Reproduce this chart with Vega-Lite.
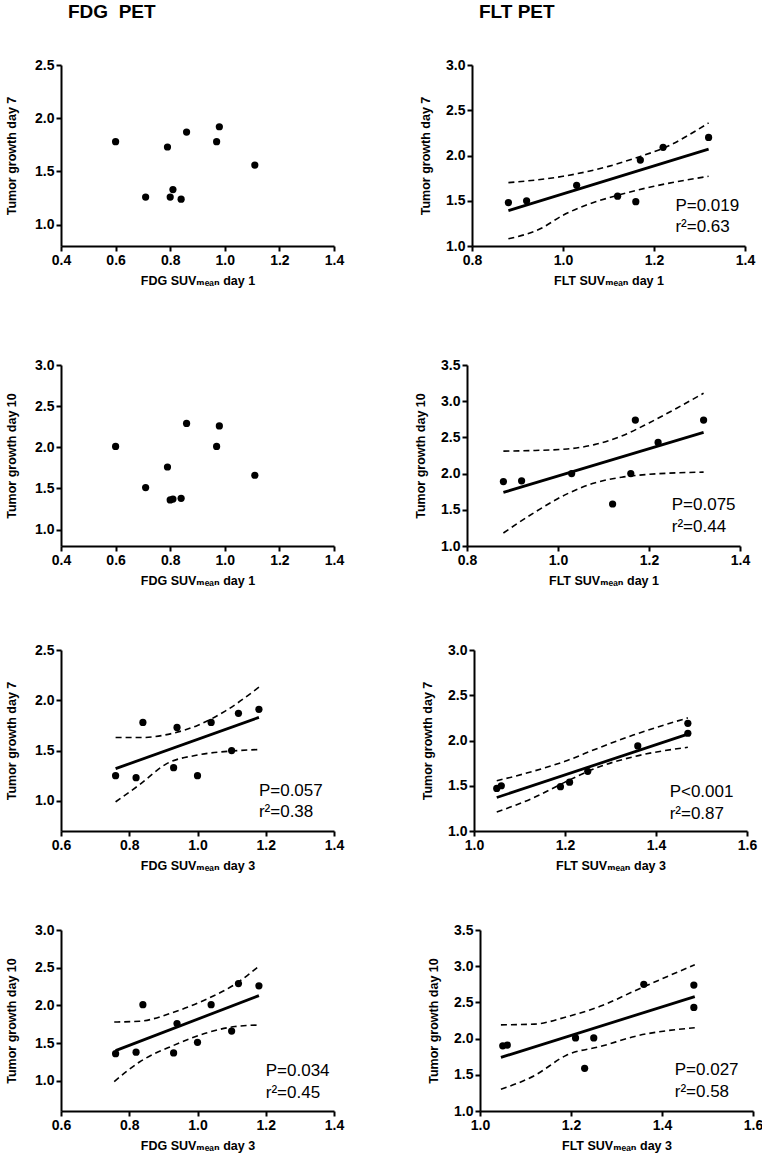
{
 "$schema": "https://vega.github.io/schema/vega-lite/v6.json",
 "background": "white",
 "padding": {"left": 5, "top": 3, "right": 0, "bottom": 5},
 "config": {
  "view": {"stroke": null},
  "font": "Liberation Sans",
  "axis": {"domainColor": "#000", "domainWidth": 2, "tickColor": "#000", "tickWidth": 2, "tickSize": 5,
   "labelFont": "Liberation Sans", "labelFontSize": 14, "labelFontWeight": "bold", "labelColor": "#000", "labelPadding": 2,
   "labelFlush": false, "labelOverlap": false,
   "titleFont": "Liberation Sans, DejaVu Sans", "titleFontSize": 12.5, "titleFontWeight": "bold", "titleColor": "#000", "grid": false},
  "axisY": {"titlePadding": 13},
  "axisX": {"titlePadding": 7},
  "title": {"font": "Liberation Sans", "color": "#000"}
 },
 "datasets": {
  "points": [
   {"panel": "A", "suv": 0.60, "growth": 1.78}, {"panel": "A", "suv": 0.71, "growth": 1.26}, {"panel": "A", "suv": 0.79, "growth": 1.73}, {"panel": "A", "suv": 0.80, "growth": 1.26}, {"panel": "A", "suv": 0.81, "growth": 1.33}, {"panel": "A", "suv": 0.84, "growth": 1.24}, {"panel": "A", "suv": 0.86, "growth": 1.87}, {"panel": "A", "suv": 0.97, "growth": 1.78}, {"panel": "A", "suv": 0.98, "growth": 1.92}, {"panel": "A", "suv": 1.11, "growth": 1.56},
   {"panel": "B", "suv": 0.88, "growth": 1.48}, {"panel": "B", "suv": 0.92, "growth": 1.50}, {"panel": "B", "suv": 1.03, "growth": 1.67}, {"panel": "B", "suv": 1.12, "growth": 1.55}, {"panel": "B", "suv": 1.16, "growth": 1.49}, {"panel": "B", "suv": 1.17, "growth": 1.95}, {"panel": "B", "suv": 1.22, "growth": 2.09}, {"panel": "B", "suv": 1.32, "growth": 2.20},
   {"panel": "C", "suv": 0.60, "growth": 2.01}, {"panel": "C", "suv": 0.71, "growth": 1.51}, {"panel": "C", "suv": 0.79, "growth": 1.76}, {"panel": "C", "suv": 0.80, "growth": 1.36}, {"panel": "C", "suv": 0.81, "growth": 1.37}, {"panel": "C", "suv": 0.84, "growth": 1.38}, {"panel": "C", "suv": 0.86, "growth": 2.29}, {"panel": "C", "suv": 0.97, "growth": 2.01}, {"panel": "C", "suv": 0.98, "growth": 2.26}, {"panel": "C", "suv": 1.11, "growth": 1.66},
   {"panel": "D", "suv": 0.88, "growth": 1.89}, {"panel": "D", "suv": 0.92, "growth": 1.90}, {"panel": "D", "suv": 1.03, "growth": 2.00}, {"panel": "D", "suv": 1.12, "growth": 1.58}, {"panel": "D", "suv": 1.16, "growth": 2.00}, {"panel": "D", "suv": 1.17, "growth": 2.74}, {"panel": "D", "suv": 1.22, "growth": 2.43}, {"panel": "D", "suv": 1.32, "growth": 2.74},
   {"panel": "E", "suv": 0.76, "growth": 1.25}, {"panel": "E", "suv": 0.82, "growth": 1.23}, {"panel": "E", "suv": 0.84, "growth": 1.78}, {"panel": "E", "suv": 0.93, "growth": 1.33}, {"panel": "E", "suv": 0.94, "growth": 1.73}, {"panel": "E", "suv": 1.00, "growth": 1.25}, {"panel": "E", "suv": 1.04, "growth": 1.78}, {"panel": "E", "suv": 1.10, "growth": 1.50}, {"panel": "E", "suv": 1.12, "growth": 1.87}, {"panel": "E", "suv": 1.18, "growth": 1.91},
   {"panel": "F", "suv": 1.05, "growth": 1.47}, {"panel": "F", "suv": 1.06, "growth": 1.50}, {"panel": "F", "suv": 1.19, "growth": 1.49}, {"panel": "F", "suv": 1.21, "growth": 1.54}, {"panel": "F", "suv": 1.25, "growth": 1.66}, {"panel": "F", "suv": 1.36, "growth": 1.94}, {"panel": "F", "suv": 1.47, "growth": 2.08}, {"panel": "F", "suv": 1.47, "growth": 2.19},
   {"panel": "G", "suv": 0.76, "growth": 1.36}, {"panel": "G", "suv": 0.82, "growth": 1.38}, {"panel": "G", "suv": 0.84, "growth": 2.01}, {"panel": "G", "suv": 0.93, "growth": 1.37}, {"panel": "G", "suv": 0.94, "growth": 1.76}, {"panel": "G", "suv": 1.00, "growth": 1.51}, {"panel": "G", "suv": 1.04, "growth": 2.01}, {"panel": "G", "suv": 1.10, "growth": 1.66}, {"panel": "G", "suv": 1.12, "growth": 2.29}, {"panel": "G", "suv": 1.18, "growth": 2.26},
   {"panel": "H", "suv": 1.05, "growth": 1.90}, {"panel": "H", "suv": 1.06, "growth": 1.91}, {"panel": "H", "suv": 1.21, "growth": 2.01}, {"panel": "H", "suv": 1.23, "growth": 1.59}, {"panel": "H", "suv": 1.25, "growth": 2.01}, {"panel": "H", "suv": 1.36, "growth": 2.75}, {"panel": "H", "suv": 1.47, "growth": 2.74}, {"panel": "H", "suv": 1.47, "growth": 2.43}
  ],
  "fits": [
   {"panel": "B", "curve": "fit", "suv": 0.88, "growth": 1.39}, {"panel": "B", "curve": "fit", "suv": 1.32, "growth": 2.07},
   {"panel": "B", "curve": "upper", "suv": 0.88, "growth": 1.70}, {"panel": "B", "curve": "upper", "suv": 1.0, "growth": 1.77}, {"panel": "B", "curve": "upper", "suv": 1.1, "growth": 1.88}, {"panel": "B", "curve": "upper", "suv": 1.17, "growth": 1.99}, {"panel": "B", "curve": "upper", "suv": 1.22, "growth": 2.08}, {"panel": "B", "curve": "upper", "suv": 1.32, "growth": 2.36},
   {"panel": "B", "curve": "lower", "suv": 0.88, "growth": 1.08}, {"panel": "B", "curve": "lower", "suv": 0.95, "growth": 1.19}, {"panel": "B", "curve": "lower", "suv": 1.0, "growth": 1.34}, {"panel": "B", "curve": "lower", "suv": 1.05, "growth": 1.45}, {"panel": "B", "curve": "lower", "suv": 1.12, "growth": 1.56}, {"panel": "B", "curve": "lower", "suv": 1.2, "growth": 1.66}, {"panel": "B", "curve": "lower", "suv": 1.32, "growth": 1.77},
   {"panel": "D", "curve": "fit", "suv": 0.88, "growth": 1.74}, {"panel": "D", "curve": "fit", "suv": 1.32, "growth": 2.57},
   {"panel": "D", "curve": "upper", "suv": 0.88, "growth": 2.31}, {"panel": "D", "curve": "upper", "suv": 0.95, "growth": 2.32}, {"panel": "D", "curve": "upper", "suv": 1.02, "growth": 2.34}, {"panel": "D", "curve": "upper", "suv": 1.08, "growth": 2.40}, {"panel": "D", "curve": "upper", "suv": 1.14, "growth": 2.52}, {"panel": "D", "curve": "upper", "suv": 1.20, "growth": 2.70}, {"panel": "D", "curve": "upper", "suv": 1.26, "growth": 2.90}, {"panel": "D", "curve": "upper", "suv": 1.32, "growth": 3.11},
   {"panel": "D", "curve": "lower", "suv": 0.88, "growth": 1.18}, {"panel": "D", "curve": "lower", "suv": 0.95, "growth": 1.47}, {"panel": "D", "curve": "lower", "suv": 1.02, "growth": 1.72}, {"panel": "D", "curve": "lower", "suv": 1.08, "growth": 1.87}, {"panel": "D", "curve": "lower", "suv": 1.14, "growth": 1.95}, {"panel": "D", "curve": "lower", "suv": 1.20, "growth": 1.99}, {"panel": "D", "curve": "lower", "suv": 1.26, "growth": 2.01}, {"panel": "D", "curve": "lower", "suv": 1.32, "growth": 2.02},
   {"panel": "E", "curve": "fit", "suv": 0.76, "growth": 1.32}, {"panel": "E", "curve": "fit", "suv": 1.18, "growth": 1.83},
   {"panel": "E", "curve": "upper", "suv": 0.76, "growth": 1.63}, {"panel": "E", "curve": "upper", "suv": 0.84, "growth": 1.63}, {"panel": "E", "curve": "upper", "suv": 0.925, "growth": 1.67}, {"panel": "E", "curve": "upper", "suv": 1.0, "growth": 1.75}, {"panel": "E", "curve": "upper", "suv": 1.08, "growth": 1.89}, {"panel": "E", "curve": "upper", "suv": 1.18, "growth": 2.13},
   {"panel": "E", "curve": "lower", "suv": 0.76, "growth": 0.99}, {"panel": "E", "curve": "lower", "suv": 0.83, "growth": 1.16}, {"panel": "E", "curve": "lower", "suv": 0.91, "growth": 1.37}, {"panel": "E", "curve": "lower", "suv": 1.0, "growth": 1.455}, {"panel": "E", "curve": "lower", "suv": 1.10, "growth": 1.495}, {"panel": "E", "curve": "lower", "suv": 1.18, "growth": 1.51},
   {"panel": "F", "curve": "fit", "suv": 1.05, "growth": 1.37}, {"panel": "F", "curve": "fit", "suv": 1.47, "growth": 2.07},
   {"panel": "F", "curve": "upper", "suv": 1.05, "growth": 1.555}, {"panel": "F", "curve": "upper", "suv": 1.13, "growth": 1.66}, {"panel": "F", "curve": "upper", "suv": 1.20, "growth": 1.77}, {"panel": "F", "curve": "upper", "suv": 1.27, "growth": 1.91}, {"panel": "F", "curve": "upper", "suv": 1.35, "growth": 2.06}, {"panel": "F", "curve": "upper", "suv": 1.47, "growth": 2.25},
   {"panel": "F", "curve": "lower", "suv": 1.05, "growth": 1.21}, {"panel": "F", "curve": "lower", "suv": 1.13, "growth": 1.365}, {"panel": "F", "curve": "lower", "suv": 1.20, "growth": 1.54}, {"panel": "F", "curve": "lower", "suv": 1.27, "growth": 1.70}, {"panel": "F", "curve": "lower", "suv": 1.35, "growth": 1.82}, {"panel": "F", "curve": "lower", "suv": 1.47, "growth": 1.925},
   {"panel": "G", "curve": "fit", "suv": 0.76, "growth": 1.40}, {"panel": "G", "curve": "fit", "suv": 1.18, "growth": 2.13},
   {"panel": "G", "curve": "upper", "suv": 0.756, "growth": 1.78}, {"panel": "G", "curve": "upper", "suv": 0.83, "growth": 1.79}, {"panel": "G", "curve": "upper", "suv": 0.93, "growth": 1.91}, {"panel": "G", "curve": "upper", "suv": 1.03, "growth": 2.09}, {"panel": "G", "curve": "upper", "suv": 1.11, "growth": 2.28}, {"panel": "G", "curve": "upper", "suv": 1.18, "growth": 2.52},
   {"panel": "G", "curve": "lower", "suv": 0.756, "growth": 0.99}, {"panel": "G", "curve": "lower", "suv": 0.83, "growth": 1.25}, {"panel": "G", "curve": "lower", "suv": 0.93, "growth": 1.47}, {"panel": "G", "curve": "lower", "suv": 1.03, "growth": 1.64}, {"panel": "G", "curve": "lower", "suv": 1.11, "growth": 1.72}, {"panel": "G", "curve": "lower", "suv": 1.18, "growth": 1.74},
   {"panel": "H", "curve": "fit", "suv": 1.046, "growth": 1.74}, {"panel": "H", "curve": "fit", "suv": 1.472, "growth": 2.58},
   {"panel": "H", "curve": "upper", "suv": 1.046, "growth": 2.19}, {"panel": "H", "curve": "upper", "suv": 1.12, "growth": 2.20}, {"panel": "H", "curve": "upper", "suv": 1.19, "growth": 2.30}, {"panel": "H", "curve": "upper", "suv": 1.27, "growth": 2.46}, {"panel": "H", "curve": "upper", "suv": 1.34, "growth": 2.66}, {"panel": "H", "curve": "upper", "suv": 1.472, "growth": 3.02},
   {"panel": "H", "curve": "lower", "suv": 1.046, "growth": 1.30}, {"panel": "H", "curve": "lower", "suv": 1.12, "growth": 1.49}, {"panel": "H", "curve": "lower", "suv": 1.19, "growth": 1.77}, {"panel": "H", "curve": "lower", "suv": 1.27, "growth": 1.90}, {"panel": "H", "curve": "lower", "suv": 1.34, "growth": 2.03}, {"panel": "H", "curve": "lower", "suv": 1.472, "growth": 2.15}
  ],
  "notes": [
   {"panel": "B", "suv": 1.247, "growth": 1.447, "note": "P=0.019"}, {"panel": "B", "suv": 1.247, "growth": 1.21, "note": "r²=0.63"},
   {"panel": "D", "suv": 1.25, "growth": 1.57, "note": "P=0.075"}, {"panel": "D", "suv": 1.25, "growth": 1.26, "note": "r²=0.44"},
   {"panel": "E", "suv": 1.18, "growth": 1.10, "note": "P=0.057"}, {"panel": "E", "suv": 1.18, "growth": 0.885, "note": "r²=0.38"},
   {"panel": "F", "suv": 1.43, "growth": 1.43, "note": "P<0.001"}, {"panel": "F", "suv": 1.43, "growth": 1.19, "note": "r²=0.87"},
   {"panel": "G", "suv": 1.20, "growth": 1.127, "note": "P=0.034"}, {"panel": "G", "suv": 1.20, "growth": 0.84, "note": "r²=0.45"},
   {"panel": "H", "suv": 1.428, "growth": 1.57, "note": "P=0.027"}, {"panel": "H", "suv": 1.428, "growth": 1.26, "note": "r²=0.58"}
  ]
 },
 "resolve": {"scale": {"x": "independent", "y": "independent"}},
 "columns": 1,
 "align": "none",
 "spacing": 56,
 "concat": [
  {
   "columns": 1,
   "align": "none",
   "spacing": 71,
   "resolve": {"scale": {"x": "independent", "y": "independent"}},
   "concat": [
    {
     "spacing": 75,
     "resolve": {"scale": {"x": "independent", "y": "independent"}},
     "hconcat": [
      {
       "width": 273, "height": 181,
       "title": {"text": "FDG\u00a0 PET", "anchor": "start", "frame": "group", "fontSize": 19, "fontWeight": "bold", "offset": 36, "dx": 7},
       "encoding": {
        "x": {"field": "suv", "type": "quantitative", "scale": {"domain": [0.4, 1.4], "nice": false, "zero": false}, "axis": {"values": [0.4, 0.6, 0.8, 1.0, 1.2, 1.4], "format": ".1f", "title": "FDG SUVₘₑₐₙ day 1"}},
        "y": {"field": "growth", "type": "quantitative", "scale": {"domain": [0.8, 2.5], "nice": false, "zero": false}, "axis": {"values": [1.0, 1.5, 2.0, 2.5], "format": ".1f", "title": "Tumor growth day 7", "titlePadding": 16}}
       },
       "layer": [
        {"data": {"name": "points"}, "transform": [{"filter": "datum.panel == 'A'"}], "mark": {"type": "circle", "size": 52, "color": "#000", "opacity": 1}}
       ]
      },
      {
       "width": 273, "height": 181,
       "title": {"text": "FLT PET", "anchor": "start", "frame": "group", "fontSize": 19, "fontWeight": "bold", "offset": 36, "dx": 7},
       "encoding": {
        "x": {"field": "suv", "type": "quantitative", "scale": {"domain": [0.8, 1.4], "nice": false, "zero": false}, "axis": {"values": [0.8, 1.0, 1.2, 1.4], "format": ".1f", "title": "FLT SUVₘₑₐₙ day 1"}},
        "y": {"field": "growth", "type": "quantitative", "scale": {"domain": [1.0, 3.0], "nice": false, "zero": false}, "axis": {"values": [1.0, 1.5, 2.0, 2.5, 3.0], "format": ".1f", "title": "Tumor growth day 7"}}
       },
       "layer": [
        {"data": {"name": "points"}, "transform": [{"filter": "datum.panel == 'B'"}], "mark": {"type": "circle", "size": 52, "color": "#000", "opacity": 1}},
        {"data": {"name": "fits"}, "transform": [{"filter": "datum.panel == 'B' && datum.curve == 'fit'"}], "mark": {"type": "line", "color": "#000", "strokeWidth": 2.8}},
        {"data": {"name": "fits"}, "transform": [{"filter": "datum.panel == 'B' && datum.curve != 'fit'"}], "mark": {"type": "line", "color": "#000", "strokeWidth": 1.6, "strokeDash": [6, 4], "interpolate": "monotone"}, "encoding": {"detail": {"field": "curve", "type": "nominal"}}},
        {"data": {"name": "notes"}, "transform": [{"filter": "datum.panel == 'B'"}], "mark": {"type": "text", "align": "left", "baseline": "middle", "fontSize": 17, "color": "#000", "font": "Liberation Sans"}, "encoding": {"text": {"field": "note", "type": "nominal"}}}
       ]
      }
     ]
    },
    {
     "spacing": 70,
     "resolve": {"scale": {"x": "independent", "y": "independent"}},
     "hconcat": [
      {
       "width": 273, "height": 181,
       "encoding": {
        "x": {"field": "suv", "type": "quantitative", "scale": {"domain": [0.4, 1.4], "nice": false, "zero": false}, "axis": {"values": [0.4, 0.6, 0.8, 1.0, 1.2, 1.4], "format": ".1f", "title": "FDG SUVₘₑₐₙ day 1"}},
        "y": {"field": "growth", "type": "quantitative", "scale": {"domain": [0.8, 3.0], "nice": false, "zero": false}, "axis": {"values": [1.0, 1.5, 2.0, 2.5, 3.0], "format": ".1f", "title": "Tumor growth day 10", "titlePadding": 16}}
       },
       "layer": [
        {"data": {"name": "points"}, "transform": [{"filter": "datum.panel == 'C'"}], "mark": {"type": "circle", "size": 52, "color": "#000", "opacity": 1}}
       ]
      },
      {
       "width": 273, "height": 181,
       "encoding": {
        "x": {"field": "suv", "type": "quantitative", "scale": {"domain": [0.8, 1.4], "nice": false, "zero": false}, "axis": {"values": [0.8, 1.0, 1.2, 1.4], "format": ".1f", "title": "FLT SUVₘₑₐₙ day 1"}},
        "y": {"field": "growth", "type": "quantitative", "scale": {"domain": [1.0, 3.5], "nice": false, "zero": false}, "axis": {"values": [1.0, 1.5, 2.0, 2.5, 3.0, 3.5], "format": ".1f", "title": "Tumor growth day 10"}}
       },
       "layer": [
        {"data": {"name": "points"}, "transform": [{"filter": "datum.panel == 'D'"}], "mark": {"type": "circle", "size": 52, "color": "#000", "opacity": 1}},
        {"data": {"name": "fits"}, "transform": [{"filter": "datum.panel == 'D' && datum.curve == 'fit'"}], "mark": {"type": "line", "color": "#000", "strokeWidth": 2.8}},
        {"data": {"name": "fits"}, "transform": [{"filter": "datum.panel == 'D' && datum.curve != 'fit'"}], "mark": {"type": "line", "color": "#000", "strokeWidth": 1.6, "strokeDash": [6, 4], "interpolate": "monotone"}, "encoding": {"detail": {"field": "curve", "type": "nominal"}}},
        {"data": {"name": "notes"}, "transform": [{"filter": "datum.panel == 'D'"}], "mark": {"type": "text", "align": "left", "baseline": "middle", "fontSize": 17, "color": "#000", "font": "Liberation Sans"}, "encoding": {"text": {"field": "note", "type": "nominal"}}}
       ]
      }
     ]
    }
   ]
  },
  {
   "columns": 1,
   "align": "none",
   "spacing": 51,
   "resolve": {"scale": {"x": "independent", "y": "independent"}},
   "concat": [
    {
     "spacing": 77,
     "resolve": {"scale": {"x": "independent", "y": "independent"}},
     "hconcat": [
      {
       "width": 273, "height": 181,
       "encoding": {
        "x": {"field": "suv", "type": "quantitative", "scale": {"domain": [0.6, 1.4], "nice": false, "zero": false}, "axis": {"values": [0.6, 0.8, 1.0, 1.2, 1.4], "format": ".1f", "title": "FDG SUVₘₑₐₙ day 3"}},
        "y": {"field": "growth", "type": "quantitative", "scale": {"domain": [0.7, 2.5], "nice": false, "zero": false}, "axis": {"values": [1.0, 1.5, 2.0, 2.5], "format": ".1f", "title": "Tumor growth day 7", "titlePadding": 16}}
       },
       "layer": [
        {"data": {"name": "points"}, "transform": [{"filter": "datum.panel == 'E'"}], "mark": {"type": "circle", "size": 52, "color": "#000", "opacity": 1}},
        {"data": {"name": "fits"}, "transform": [{"filter": "datum.panel == 'E' && datum.curve == 'fit'"}], "mark": {"type": "line", "color": "#000", "strokeWidth": 2.8}},
        {"data": {"name": "fits"}, "transform": [{"filter": "datum.panel == 'E' && datum.curve != 'fit'"}], "mark": {"type": "line", "color": "#000", "strokeWidth": 1.6, "strokeDash": [6, 4], "interpolate": "monotone"}, "encoding": {"detail": {"field": "curve", "type": "nominal"}}},
        {"data": {"name": "notes"}, "transform": [{"filter": "datum.panel == 'E'"}], "mark": {"type": "text", "align": "left", "baseline": "middle", "fontSize": 17, "color": "#000", "font": "Liberation Sans"}, "encoding": {"text": {"field": "note", "type": "nominal"}}}
       ]
      },
      {
       "width": 273, "height": 181,
       "encoding": {
        "x": {"field": "suv", "type": "quantitative", "scale": {"domain": [1.0, 1.6], "nice": false, "zero": false}, "axis": {"values": [1.0, 1.2, 1.4, 1.6], "format": ".1f", "title": "FLT SUVₘₑₐₙ day 3"}},
        "y": {"field": "growth", "type": "quantitative", "scale": {"domain": [1.0, 3.0], "nice": false, "zero": false}, "axis": {"values": [1.0, 1.5, 2.0, 2.5, 3.0], "format": ".1f", "title": "Tumor growth day 7"}}
       },
       "layer": [
        {"data": {"name": "points"}, "transform": [{"filter": "datum.panel == 'F'"}], "mark": {"type": "circle", "size": 52, "color": "#000", "opacity": 1}},
        {"data": {"name": "fits"}, "transform": [{"filter": "datum.panel == 'F' && datum.curve == 'fit'"}], "mark": {"type": "line", "color": "#000", "strokeWidth": 2.8}},
        {"data": {"name": "fits"}, "transform": [{"filter": "datum.panel == 'F' && datum.curve != 'fit'"}], "mark": {"type": "line", "color": "#000", "strokeWidth": 1.6, "strokeDash": [6, 4], "interpolate": "monotone"}, "encoding": {"detail": {"field": "curve", "type": "nominal"}}},
        {"data": {"name": "notes"}, "transform": [{"filter": "datum.panel == 'F'"}], "mark": {"type": "text", "align": "left", "baseline": "middle", "fontSize": 17, "color": "#000", "font": "Liberation Sans"}, "encoding": {"text": {"field": "note", "type": "nominal"}}}
       ]
      }
     ]
    },
    {
     "spacing": 83,
     "resolve": {"scale": {"x": "independent", "y": "independent"}},
     "hconcat": [
      {
       "width": 273, "height": 181,
       "encoding": {
        "x": {"field": "suv", "type": "quantitative", "scale": {"domain": [0.6, 1.4], "nice": false, "zero": false}, "axis": {"values": [0.6, 0.8, 1.0, 1.2, 1.4], "format": ".1f", "title": "FDG SUVₘₑₐₙ day 3"}},
        "y": {"field": "growth", "type": "quantitative", "scale": {"domain": [0.6, 3.0], "nice": false, "zero": false}, "axis": {"values": [1.0, 1.5, 2.0, 2.5, 3.0], "format": ".1f", "title": "Tumor growth day 10", "titlePadding": 16}}
       },
       "layer": [
        {"data": {"name": "points"}, "transform": [{"filter": "datum.panel == 'G'"}], "mark": {"type": "circle", "size": 52, "color": "#000", "opacity": 1}},
        {"data": {"name": "fits"}, "transform": [{"filter": "datum.panel == 'G' && datum.curve == 'fit'"}], "mark": {"type": "line", "color": "#000", "strokeWidth": 2.8}},
        {"data": {"name": "fits"}, "transform": [{"filter": "datum.panel == 'G' && datum.curve != 'fit'"}], "mark": {"type": "line", "color": "#000", "strokeWidth": 1.6, "strokeDash": [6, 4], "interpolate": "monotone"}, "encoding": {"detail": {"field": "curve", "type": "nominal"}}},
        {"data": {"name": "notes"}, "transform": [{"filter": "datum.panel == 'G'"}], "mark": {"type": "text", "align": "left", "baseline": "middle", "fontSize": 17, "color": "#000", "font": "Liberation Sans"}, "encoding": {"text": {"field": "note", "type": "nominal"}}}
       ]
      },
      {
       "width": 273, "height": 181,
       "encoding": {
        "x": {"field": "suv", "type": "quantitative", "scale": {"domain": [1.0, 1.6], "nice": false, "zero": false}, "axis": {"values": [1.0, 1.2, 1.4, 1.6], "format": ".1f", "title": "FLT SUVₘₑₐₙ day 3"}},
        "y": {"field": "growth", "type": "quantitative", "scale": {"domain": [1.0, 3.5], "nice": false, "zero": false}, "axis": {"values": [1.0, 1.5, 2.0, 2.5, 3.0, 3.5], "format": ".1f", "title": "Tumor growth day 10"}}
       },
       "layer": [
        {"data": {"name": "points"}, "transform": [{"filter": "datum.panel == 'H'"}], "mark": {"type": "circle", "size": 52, "color": "#000", "opacity": 1}},
        {"data": {"name": "fits"}, "transform": [{"filter": "datum.panel == 'H' && datum.curve == 'fit'"}], "mark": {"type": "line", "color": "#000", "strokeWidth": 2.8}},
        {"data": {"name": "fits"}, "transform": [{"filter": "datum.panel == 'H' && datum.curve != 'fit'"}], "mark": {"type": "line", "color": "#000", "strokeWidth": 1.6, "strokeDash": [6, 4], "interpolate": "monotone"}, "encoding": {"detail": {"field": "curve", "type": "nominal"}}},
        {"data": {"name": "notes"}, "transform": [{"filter": "datum.panel == 'H'"}], "mark": {"type": "text", "align": "left", "baseline": "middle", "fontSize": 17, "color": "#000", "font": "Liberation Sans"}, "encoding": {"text": {"field": "note", "type": "nominal"}}}
       ]
      }
     ]
    }
   ]
  }
 ]
}
